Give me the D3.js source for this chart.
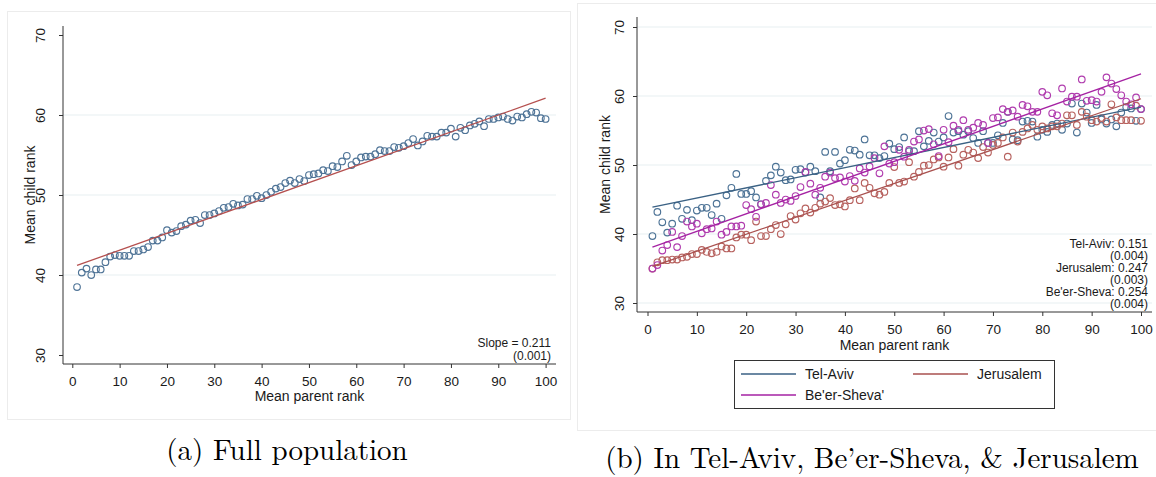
<!DOCTYPE html>
<html>
<head>
<meta charset="utf-8">
<script src="https://cdn.jsdelivr.net/npm/d3@7/dist/d3.min.js"></script>
<style>
  html, body { margin: 0; padding: 0; background: #fff; }
  svg { display: block; }
  text { font-family: "Liberation Sans", Arial, sans-serif; fill: #1a1a1a; }
  .cap { font-family: "Latin Modern Roman", "CMU Serif", "Liberation Serif", "DejaVu Serif", serif; fill: #000; }
</style>
</head>
<body>
<script>
// ---------------- DATA ----------------
const parentRank = [1,2,3,4,5,6,7,8,9,10,11,12,13,14,15,16,17,18,19,20,
  21,22,23,24,25,26,27,28,29,30,31,32,33,34,35,36,37,38,39,40,
  41,42,43,44,45,46,47,48,49,50,51,52,53,54,55,56,57,58,59,60,
  61,62,63,64,65,66,67,68,69,70,71,72,73,74,75,76,77,78,79,80,
  81,82,83,84,85,86,87,88,89,90,91,92,93,94,95,96,97,98,99,100];

const fullPopulation = [38.5,40.3,40.8,40.0,40.7,40.7,41.6,42.3,42.5,42.4,
  42.4,42.4,43.0,43.0,43.2,43.5,44.3,44.3,44.7,45.6,
  45.3,45.5,46.1,46.3,46.8,46.9,46.5,47.5,47.5,47.7,
  48.0,48.4,48.5,48.9,48.7,48.8,49.5,49.5,49.9,49.6,
  50.0,50.4,50.8,51.0,51.5,51.8,51.5,52.0,51.75,52.5,
  52.6,52.7,53.1,53.0,53.6,53.5,54.2,54.9,53.75,54.2,
  54.7,54.8,54.8,55.1,55.6,55.5,55.5,56.0,55.9,56.1,
  56.5,57.0,56.2,56.7,57.4,57.3,57.3,57.8,57.8,58.3,
  57.3,58.4,58.1,58.7,58.9,59.2,58.6,59.5,59.5,59.7,
  59.8,59.5,59.3,59.8,59.7,60.1,60.4,60.3,59.6,59.5];

const telAviv = [39.7,43.2,41.7,40.2,41.5,44.1,42.2,43.5,42.0,43.4,
  43.8,43.8,42.75,44.4,42.2,45.6,46.7,48.7,45.8,45.8,
  46.2,45.3,44.3,47.7,48.5,49.75,48.9,47.8,47.9,49.3,
  49.4,48.9,49.75,49.1,45.3,51.9,49.1,51.9,50.2,50.7,
  52.2,52.1,51.5,53.7,51.4,51.4,51.0,51.3,53.1,52.3,
  52.6,54.0,52.0,52.0,54.9,52.7,53.5,54.7,53.4,54.0,
  57.1,54.7,54.9,54.4,54.9,53.9,53.2,54.9,53.2,53.2,
  54.3,56.1,57.7,53.7,53.6,56.3,56.4,56.3,54.1,55.1,
  54.8,55.8,56.0,55.1,56.0,58.9,54.7,58.9,57.6,56.1,
  58.7,56.6,56.0,56.6,55.6,57.6,58.4,58.2,56.4,58.1];

const jerusalem = [35.0,35.9,36.2,36.2,36.3,36.3,36.6,36.7,37.1,37.1,
  37.7,37.4,37.2,37.4,38.2,37.9,37.9,39.5,39.9,39.9,
  39.1,41.8,39.7,39.7,40.7,41.3,40.0,41.4,42.6,42.1,
  43.0,43.7,43.1,43.8,44.4,44.7,45.2,44.2,44.3,44.0,
  44.9,46.6,44.9,47.4,46.7,45.9,45.7,46.1,47.4,49.7,
  47.4,47.6,50.4,48.3,49.0,49.9,50.0,50.8,51.1,49.75,
  51.1,52.3,49.9,51.5,52.2,51.8,51.0,52.6,51.8,52.9,
  53.2,54.0,51.2,54.7,53.4,54.8,55.3,55.8,55.1,55.6,
  55.3,55.6,55.6,56.0,57.2,57.2,55.8,57.7,57.0,56.5,
  56.3,56.8,56.3,58.8,56.9,56.5,56.5,56.5,58.6,56.4];

const beerSheva = [35.0,35.5,37.6,38.4,40.3,38.1,39.7,41.8,41.1,41.5,
  40.1,40.7,40.8,41.8,39.9,40.3,41.1,41.1,41.2,44.2,
  43.6,42.5,44.3,44.5,47.1,45.7,44.5,45.0,44.8,45.5,
  46.8,49.0,47.3,45.7,46.7,48.3,48.9,48.1,48.2,47.6,
  48.4,47.7,49.5,48.9,49.8,51.0,48.8,52.7,50.2,50.4,
  52.2,51.2,52.2,53.4,53.7,55.0,55.2,53.0,51.3,55.1,
  53.3,55.7,55.1,56.5,55.1,55.4,56.1,55.8,53.2,56.8,
  56.9,58.1,57.7,57.9,57.0,58.7,58.5,57.7,57.7,60.6,
  60.1,57.5,57.2,61.1,59.2,59.9,59.9,62.4,59.3,59.4,
  59.2,60.6,62.7,61.8,61.0,60.1,59.2,58.8,59.8,58.1];

// fitted lines: value at parent rank 1 and at 100
const fitRange = [1, 100];
const fitFull = [41.2, 62.1];
const fitTelAviv = [43.9, 58.4];
const fitJerusalem = [35.3, 59.6];
const fitBeerSheva = [38.1, 63.2];

const xTicks = [0,10,20,30,40,50,60,70,80,90,100];
const yTicks = [30,40,50,60,70];
const seriesNames = ["Tel-Aviv", "Jerusalem", "Be'er-Sheva'"];
const slopeFull = ["Slope =  0.211", "(0.001)"];
const slopeCities = ["Tel-Aviv: 0.151", "(0.004)", "Jerusalem: 0.247", "(0.003)", "Be'er-Sheva: 0.254", "(0.004)"];
const captions = ["(a) Full population", "(b) In Tel-Aviv, Be\u2019er-Sheva, & Jerusalem"];

// ---------------- STYLE ----------------
const C = {
  fullMarker: "#4f7497", fullLine: "#b5504f",
  ta: "#4d7396", taLine: "#3a6184",
  je: "#b7625f", jeLine: "#a9514f",
  bs: "#b03cae", bsLine: "#a522a3",
  grid: "#e7eff2", axis: "#333"
};

const svg = d3.select("body").append("svg").attr("width", 1156).attr("height", 477);
svg.append("rect").attr("width", 1156).attr("height", 477).attr("fill", "#fff");

// panel outlines
svg.append("rect").attr("x", 7.5).attr("y", 11.5).attr("width", 563).attr("height", 408)
  .attr("fill", "none").attr("stroke", "#ececec");
svg.append("rect").attr("x", 577.5).attr("y", 3.5).attr("width", 590).attr("height", 427)
  .attr("fill", "none").attr("stroke", "#ececec");

function panel(cfg) {
  const g = svg.append("g");
  const x = d3.scaleLinear().domain([0, 100]).range(cfg.xr);
  const y = d3.scaleLinear().domain([30, 70]).range(cfg.yr);

  // gridlines
  g.selectAll(".grid").data(cfg.grid).join("line")
    .attr("x1", cfg.ax0).attr("x2", cfg.ax1)
    .attr("y1", d => y(d)).attr("y2", d => y(d))
    .attr("stroke", C.grid).attr("stroke-width", 1.2);

  // y axis
  const ya = g.append("g").attr("transform", `translate(${cfg.ax0},0)`)
    .call(d3.axisLeft(y).tickValues(yTicks).tickSize(4).tickFormat(d3.format("d")));
  ya.select(".domain").remove();
  ya.selectAll(".tick line").attr("stroke", C.axis);
  ya.selectAll(".tick text")
    .attr("transform", "rotate(-90)")
    .attr("x", 0).attr("y", cfg.yLabOff).attr("dy", 0)
    .attr("text-anchor", "middle")
    .style("font-size", cfg.tickFs + "px").style("font-family", "Liberation Sans, Arial, sans-serif")
    .attr("fill", "#1a1a1a");
  g.append("line").attr("x1", cfg.ax0).attr("x2", cfg.ax0).attr("y1", cfg.ay0).attr("y2", cfg.ay1)
    .attr("stroke", C.axis).attr("stroke-width", 1);

  // x axis
  const xa = g.append("g").attr("transform", `translate(0,${cfg.ay1})`)
    .call(d3.axisBottom(x).tickValues(xTicks).tickSize(4).tickFormat(d3.format("d")));
  xa.select(".domain").remove();
  xa.selectAll(".tick line").attr("stroke", C.axis);
  xa.selectAll(".tick text")
    .attr("y", cfg.xLabOff).attr("dy", 0)
    .style("font-size", cfg.tickFs + "px").style("font-family", "Liberation Sans, Arial, sans-serif")
    .attr("fill", "#1a1a1a");
  g.append("line").attr("x1", cfg.ax0).attr("x2", cfg.ax1).attr("y1", cfg.ay1).attr("y2", cfg.ay1)
    .attr("stroke", C.axis).attr("stroke-width", 1);

  // titles
  g.append("text").attr("x", (cfg.ax0 + cfg.ax1) / 2).attr("y", cfg.xTitleY)
    .attr("text-anchor", "middle").style("font-size", cfg.titleFs + "px").text("Mean parent rank");
  g.append("text").attr("transform", `translate(${cfg.yTitleX},${(cfg.ay0 + cfg.ay1) / 2}) rotate(-90)`)
    .attr("text-anchor", "middle").style("font-size", cfg.titleFs + "px").text("Mean child rank");

  // series
  cfg.series.forEach(s => {
    g.append("g").selectAll("circle").data(s.values).join("circle")
      .attr("cx", (d, i) => x(parentRank[i])).attr("cy", d => y(d))
      .attr("r", cfg.r).attr("fill", "none").attr("stroke", s.marker).attr("stroke-width", 1.15);
  });
  cfg.series.forEach(s => {
    g.append("line")
      .attr("x1", x(fitRange[0])).attr("y1", y(s.fit[0]))
      .attr("x2", x(fitRange[1])).attr("y2", y(s.fit[1]))
      .attr("stroke", s.line).attr("stroke-width", 1.3);
  });

  // annotation
  cfg.notes.forEach((t, i) => {
    g.append("text").attr("x", cfg.noteX).attr("y", cfg.noteY + i * cfg.noteDy)
      .attr("text-anchor", "end").style("font-size", "12px").attr("fill", "#222").text(t);
  });
  return { g, x, y };
}

panel({
  xr: [72.3, 545.6], yr: [355, 35], ax0: 63, ax1: 556, ay0: 26, ay1: 364,
  grid: [40, 50, 60], tickFs: 13.5, titleFs: 14, yLabOff: -18, xLabOff: 22,
  xTitleY: 401, yTitleX: 35, r: 3.3,
  series: [{ values: fullPopulation, marker: C.fullMarker, line: C.fullLine, fit: fitFull }],
  notes: slopeFull, noteX: 551, noteY: 347, noteDy: 12.5
});

panel({
  xr: [647.5, 1141], yr: [303, 27], ax0: 637, ax1: 1152, ay0: 17, ay1: 312,
  grid: [30, 40, 50, 60, 70], tickFs: 13.5, titleFs: 14, yLabOff: -13, xLabOff: 22,
  xTitleY: 350, yTitleX: 610, r: 3.3,
  series: [
    { values: telAviv, marker: C.ta, line: C.taLine, fit: fitTelAviv },
    { values: jerusalem, marker: C.je, line: C.jeLine, fit: fitJerusalem },
    { values: beerSheva, marker: C.bs, line: C.bsLine, fit: fitBeerSheva }
  ],
  notes: slopeCities, noteX: 1148, noteY: 248, noteDy: 12
});

// legend
const lg = svg.append("g");
lg.append("rect").attr("x", 734.5).attr("y", 360.5).attr("width", 320).attr("height", 48)
  .attr("fill", "#fff").attr("stroke", "#333").attr("stroke-width", 1);
const legendItems = [
  { name: seriesNames[0], color: C.taLine, lx: 741, ly: 374 },
  { name: seriesNames[1], color: C.jeLine, lx: 913, ly: 374 },
  { name: seriesNames[2], color: C.bsLine, lx: 741, ly: 395 }
];
legendItems.forEach(d => {
  lg.append("line").attr("x1", d.lx).attr("x2", d.lx + 55).attr("y1", d.ly).attr("y2", d.ly)
    .attr("stroke", d.color).attr("stroke-width", 1.5);
  lg.append("text").attr("x", d.lx + 64).attr("y", d.ly + 5).style("font-size", "14px").text(d.name);
});

// captions
svg.append("text").attr("class", "cap").attr("x", 287).attr("y", 460)
  .attr("text-anchor", "middle").style("font-size", "29px").text(captions[0]);
svg.append("text").attr("class", "cap").attr("x", 872).attr("y", 468)
  .attr("text-anchor", "middle").style("font-size", "29px").text(captions[1]);
</script>
</body>
</html>
